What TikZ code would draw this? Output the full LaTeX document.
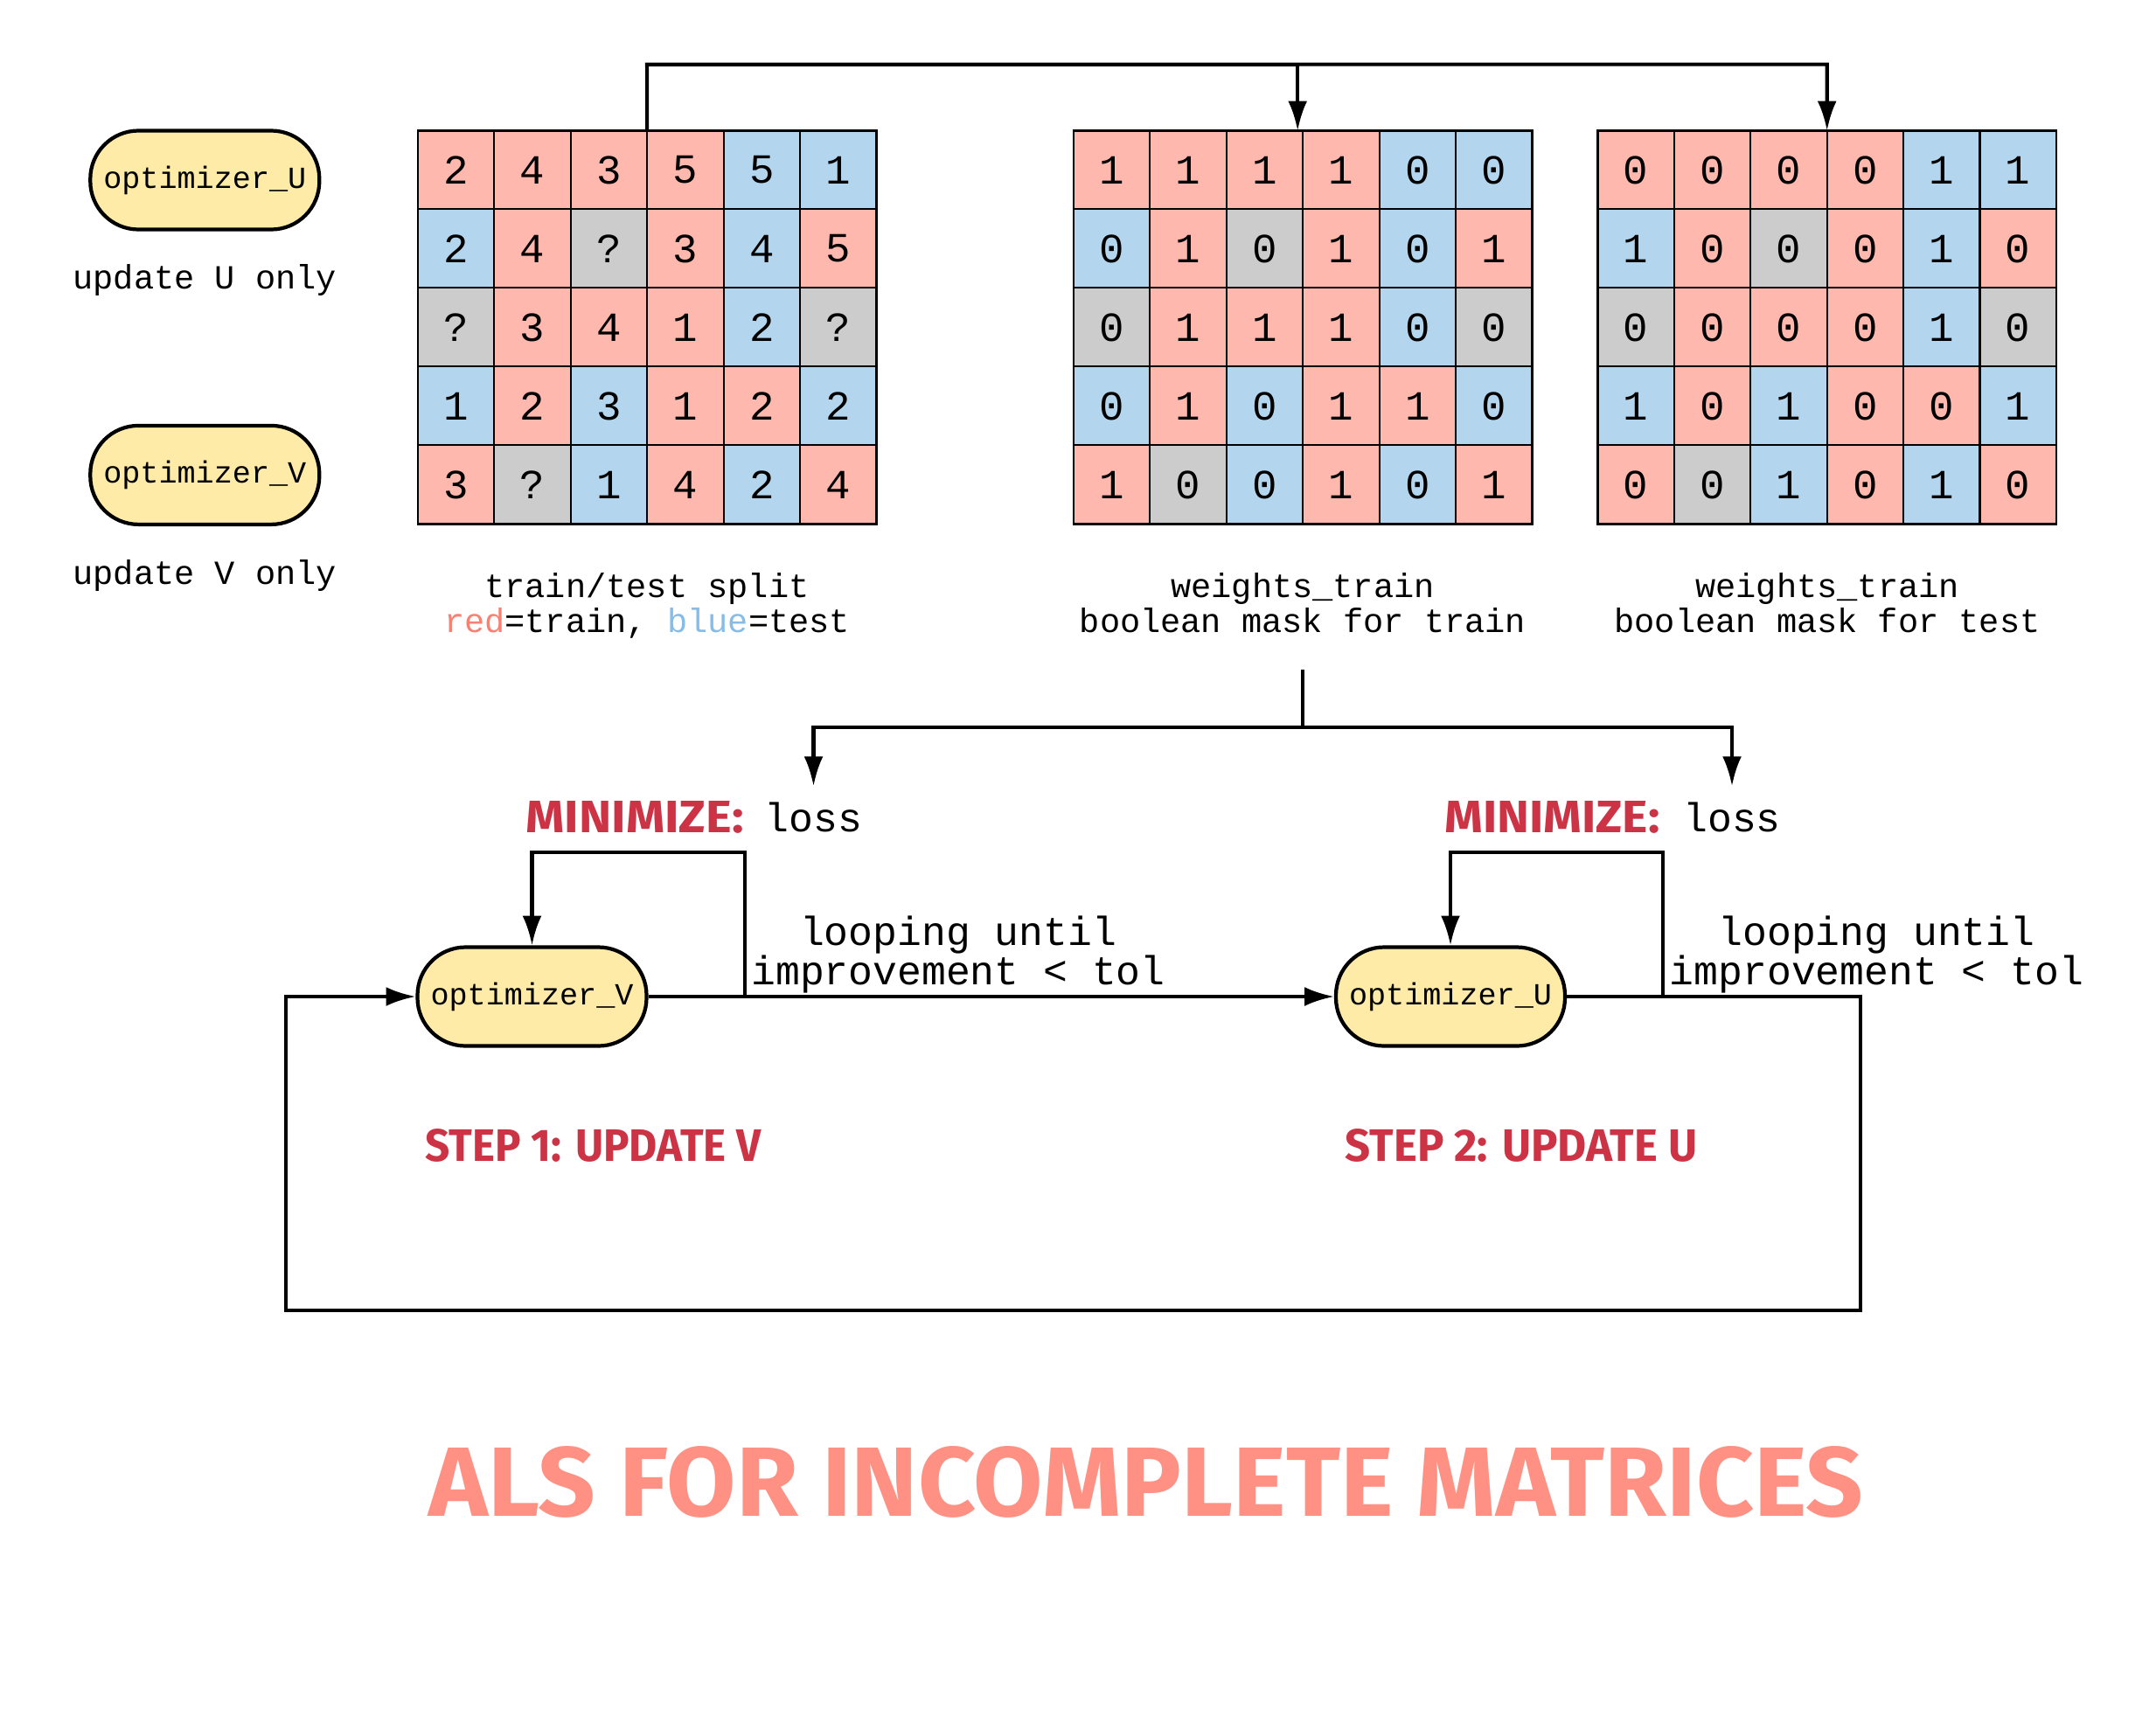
\documentclass[tikz,border=0pt]{standalone}
\usepackage{fontspec}
\setmainfont{Liberation Mono}
\newfontfamily\comicfont{Fira Sans}
\usepackage{graphicx}
\usepackage{tikz}
\usetikzlibrary{arrows.meta, positioning, fit}

\definecolor{cell1}{HTML}{FFB8AE}
\definecolor{cell2}{HTML}{B3D6EE}
\definecolor{cell3}{HTML}{CCCCCC}
\definecolor{optfill}{HTML}{FFEBA8}
\definecolor{steptxt}{HTML}{CC3344}
\definecolor{titletxt}{HTML}{FF9184}
\definecolor{redtxt}{HTML}{FA8072}
\definecolor{bluetxt}{HTML}{86BDE8}

% hand-lettered headings: squeeze the bold sans to the size of the original lettering
\newcommand{\comic}[3]{\resizebox{#1}{#2}{\comicfont\bfseries #3}}
\setlength{\lineskiplimit}{-5pt}

\begin{document}
\begin{tikzpicture}[x=1cm, y=-1cm, >=Latex,
  cell/.style={draw, line width=0.6pt, minimum width=0.874cm, minimum height=0.9cm,
    inner sep=0pt, outer sep=0pt, font=\fontsize{13.5}{16}\selectfont},
  opt/.style={draw, line width=1.2pt, fill=optfill, rounded corners=0.55cm,
    minimum width=2.62cm, minimum height=1.13cm, font=\fontsize{10}{12}\selectfont},
  arr/.style={-{Latex[length=9.6pt,width=6.2pt]}, line width=1.15pt},
  captext/.style={align=center, anchor=base, inner sep=0pt,
    font=\fontsize{11}{11.2}\selectfont},
  note/.style={align=center, anchor=base, inner sep=0pt,
    font=\fontsize{13.2}{12.6}\selectfont},
  heading/.style={anchor=base west, inner sep=0pt}]
  \useasboundingbox (0,0) rectangle (24.66,19.54);

  % Optimizers on the left
  \node[opt] (optUtop) at (2.343,2.06) {optimizer\_U};
  \node[anchor=base, font=\fontsize{11}{13}\selectfont] (optUnote) at (2.343,3.306) {update U only};
  \node[opt] (optVtop) at (2.343,5.434) {optimizer\_V};
  \node[anchor=base, font=\fontsize{11}{13}\selectfont] (optVnote) at (2.343,6.68) {update V only};

  % Ratings and the two masks (1 = red/train, 2 = blue/test, 3 = gray/missing)
  \foreach \rw/\row in {1/{1/2,1/4,1/3,1/5,2/5,2/1}, 2/{2/2,1/4,3/?,1/3,2/4,1/5},
      3/{3/?,1/3,1/4,1/1,2/2,3/?}, 4/{2/1,1/2,2/3,1/1,1/2,2/2}, 5/{1/3,3/?,2/1,1/4,2/2,1/4}}
    \foreach \clr/\val [count=\j] in \row {
      \node[cell, fill=cell\clr] (S-\rw-\j) at ({4.78+(\j-0.5)*0.874},{1.494+(\rw-0.5)*0.9}) {\val};
      \node[cell, fill=cell\clr] (A-\rw-\j) at ({12.28+(\j-0.5)*0.874},{1.494+(\rw-0.5)*0.9}) {\ifnum\clr=1 1\else 0\fi};
      \node[cell, fill=cell\clr] (B-\rw-\j) at ({18.275+(\j-0.5)*0.874},{1.494+(\rw-0.5)*0.9}) {\ifnum\clr=2 1\else 0\fi};
    }
  \node[fit=(S-1-1)(S-5-6), draw, line width=0.8pt, inner sep=0pt, outer sep=0pt] (split) {};
  \node[fit=(A-1-1)(A-5-6), draw, line width=0.8pt, inner sep=0pt, outer sep=0pt] (trainmask) {};
  \node[fit=(B-1-1)(B-5-6), draw, line width=0.8pt, inner sep=0pt, outer sep=0pt] (testmask) {};

  \node[captext] (splitcap) at (7.40,7.23) {train/test split\\\textcolor{redtxt}{red}=train, \textcolor{bluetxt}{blue}=test};
  \node[captext] (traincap) at (14.90,7.23) {weights\_train\\boolean mask for train};
  \node[captext] (testcap) at (20.90,7.23) {weights\_train\\boolean mask for test};

  % Split feeds both masks
  \coordinate (topbar) at (7.40,0.737);
  \draw[arr] (split.north) -- (topbar) -| (testmask.north);
  \draw[arr] (topbar) -| ([xshift=-0.06cm]trainmask.north);

  % Loss for each step
  \node[heading, text=steptxt] (min1) at (6.008,9.52) {\comic{2.49cm}{0.36cm}{MINIMIZE:}};
  \node[anchor=base, inner sep=5pt, font=\fontsize{13.2}{15}\selectfont] (loss1) at (9.305,9.51) {loss};
  \node[heading, text=steptxt] (min2) at (16.516,9.52) {\comic{2.46cm}{0.36cm}{MINIMIZE:}};
  \node[anchor=base, inner sep=5pt, font=\fontsize{13.2}{15}\selectfont] (loss2) at (19.81,9.51) {loss};

  \coordinate (lossbar) at (14.898,8.324);
  \draw[arr, shorten <=1.668cm] (trainmask.south) -- (trainmask.south |- lossbar) -| (loss1.north);
  \draw[arr] (lossbar) -| (loss2.north);

  % Alternating steps
  \node[opt] (optV) at (6.085,11.40) {optimizer\_V};
  \node[opt] (optU) at (16.59,11.40) {optimizer\_U};

  \coordinate (loopV) at (8.52,11.40);
  \coordinate (loopU) at (19.023,11.40);
  \coordinate (backR) at (21.278,14.988);
  \coordinate (backL) at (3.27,14.988);

  \draw[arr] (optV.east) -- (optU.west);
  \draw[arr] (loopV) -- ++(0,-1.652) -| (optV.north);
  \draw[arr] (loopU) -- ++(0,-1.652) -| (optU.north);
  \draw[arr] (optU.east) -| (backR) -- (backL) |- (optV.west);

  \node[note] (loopnote1) at (10.96,11.26) {looping until\\improvement < tol};
  \node[note] (loopnote2) at (21.465,11.26) {looping until\\improvement < tol};

  \node[heading, text=steptxt] (step1) at (4.86,13.28) {\comic{3.84cm}{0.37cm}{STEP 1: UPDATE V}};
  \node[heading, text=steptxt] (step2) at (15.38,13.28) {\comic{4.025cm}{0.37cm}{STEP 2: UPDATE U}};

  % Title
  \node[heading, text=titletxt] (title) at (4.895,17.34) {\comic{16.41cm}{0.80cm}{ALS FOR INCOMPLETE MATRICES}};
\end{tikzpicture}
\end{document}
